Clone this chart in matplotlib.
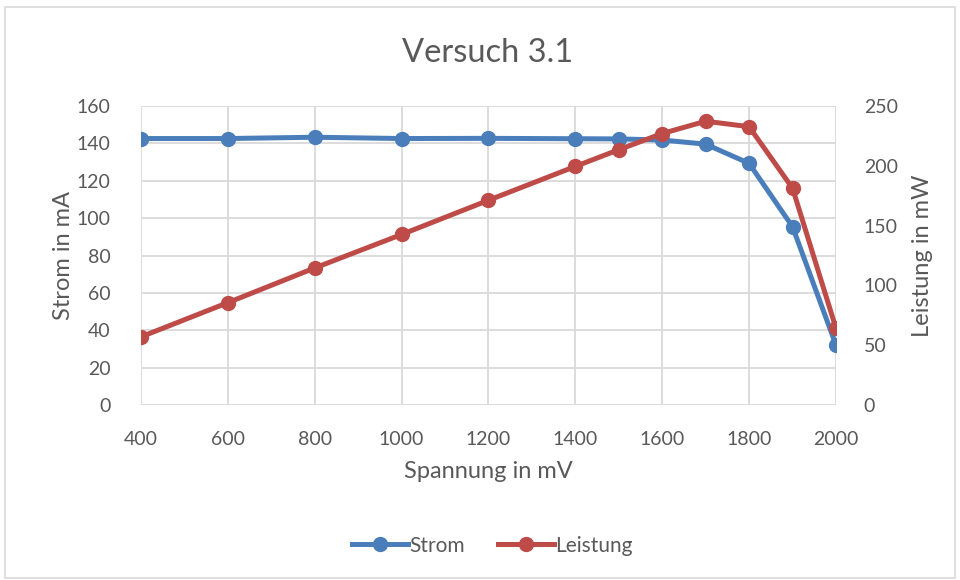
import matplotlib.pyplot as plt
from matplotlib.patches import Rectangle

plt.rcParams['font.family'] = ['Lato', 'DejaVu Sans']

# Messwerte
spannung = [400, 600, 800, 1000, 1200, 1400, 1500, 1600, 1700, 1800, 1900, 2000]  # mV
strom = [142.6, 142.6, 143.3, 142.6, 142.7, 142.5, 142.4, 141.8, 139.6, 129.3, 95.4, 32.1]  # mA
leistung = [57.0, 85.6, 114.6, 142.6, 171.2, 199.5, 213.5, 227.0, 237.3, 232.7, 181.3, 64.2]  # mW

grau = '#595959'
blau = '#4a7ebb'
rot = '#be4b48'

fig = plt.figure(figsize=(9.6, 5.8), dpi=100)
fig.patches.append(Rectangle((0.005, 0.003), 0.99, 0.985, transform=fig.transFigure,
                             fill=False, edgecolor='#d9d9d9', linewidth=1.2))

ax = fig.add_axes([0.1469, 0.3017, 0.7239, 0.5155])
ax2 = ax.twinx()

l1, = ax.plot(spannung, strom, color=blau, lw=3.6, marker='o', ms=10, label='Strom', zorder=3)
l2, = ax2.plot(spannung, leistung, color=rot, lw=3.6, marker='o', ms=10, label='Leistung', zorder=3)

ax.set_xlim(400, 2000)
ax.set_ylim(0, 160)
ax2.set_ylim(0, 250)
ax.set_xticks(range(400, 2001, 200))
ax.set_yticks(range(0, 161, 20))
ax2.set_yticks(range(0, 251, 50))

ax.grid(True, color='#d9d9d9', lw=1.3)
ax.set_axisbelow(True)
for a in (ax, ax2):
    for s in a.spines.values():
        s.set_visible(False)
    a.tick_params(length=0, labelsize=14, labelcolor=grau)
ax.tick_params(axis='y', pad=22)
ax2.tick_params(axis='y', pad=20)
ax.tick_params(axis='x', pad=19)

ax.set_xlabel('Spannung in mV', fontsize=17, color=grau, labelpad=9)
ax.set_ylabel('Strom in mA', fontsize=17, color=grau, labelpad=2)
ax2.set_ylabel('Leistung in mW', fontsize=17, color=grau, labelpad=10)

fig.suptitle('Versuch 3.1', x=0.508, y=0.935, fontsize=23.5, color=grau)

fig.legend(handles=[l1, l2], loc='center', bbox_to_anchor=(0.513, 0.059), ncol=2,
           frameon=False, fontsize=15, labelcolor=grau, handlelength=2.7,
           handletextpad=0.05, columnspacing=1.6)

fig.savefig('out.png', dpi=100)
